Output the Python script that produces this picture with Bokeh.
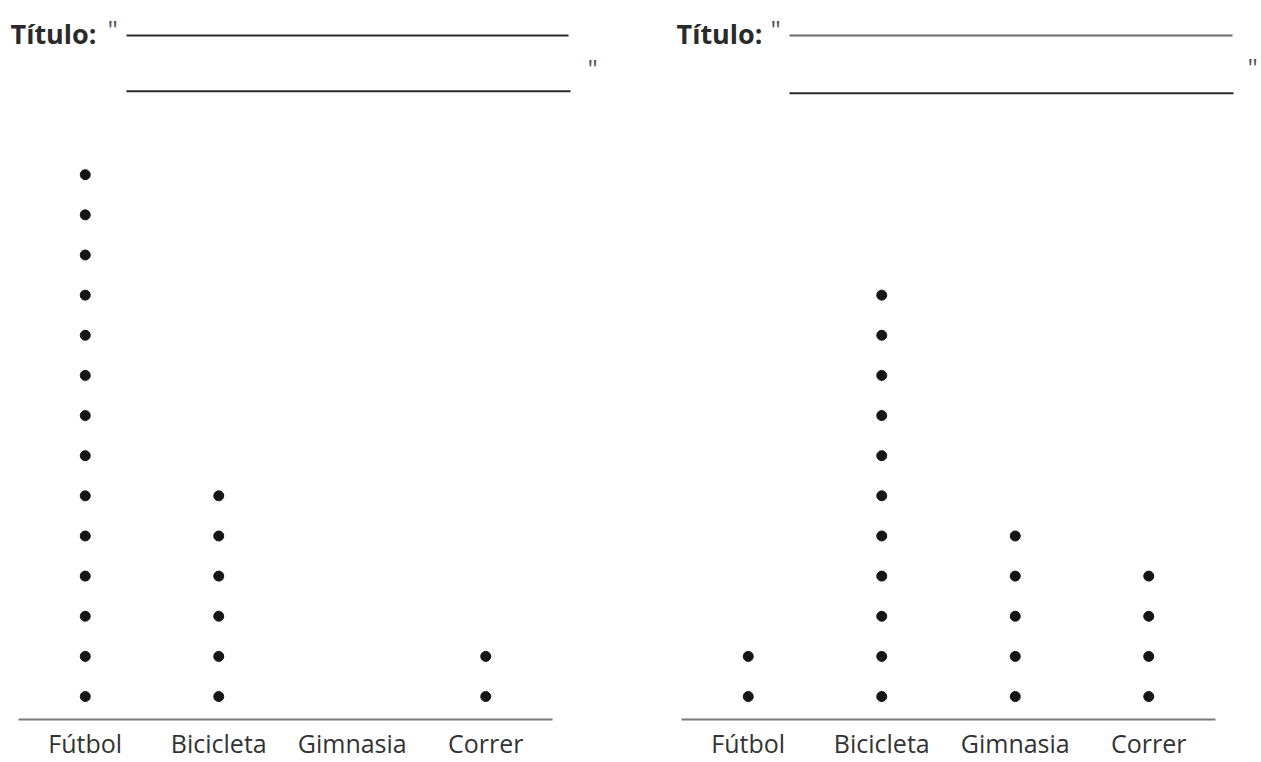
from bokeh.plotting import figure
from bokeh.layouts import row
from bokeh.models import Range1d, FixedTicker
from bokeh.core.properties import value
from bokeh.embed import file_html
from bokeh.resources import INLINE

categories = ["Fútbol", "Bicicleta", "Gimnasia", "Correr"]
counts_left = [14, 6, 0, 2]
counts_right = [2, 11, 5, 4]
title_label = "Título:"
quote_mark = '"'

FONT = "Open Sans"
DARK = "#2a2a2a"
AXIS_GRAY = "#7a7a7a"


def panel(width, counts, border_left, frame_w, title_x, quote_x, line_x0, line_x1,
          line_y, line_colors, close_x, close_y):
    xs, ys = [], []
    for i, n in enumerate(counts):
        for k in range(1, n + 1):
            xs.append(i)
            ys.append(k)
    frame_left = border_left
    p = figure(width=width, height=762, output_backend="svg", toolbar_location=None,
               x_range=Range1d(-0.5, len(categories) - 0.5),
               y_range=Range1d(0.428, 18.34),
               y_axis_location=None,
               min_border_left=border_left, min_border_right=width - border_left - frame_w,
               min_border_top=0, min_border_bottom=0,
               outline_line_color=None)
    # pixel-like helper ranges for the title decorations
    p.extra_x_ranges = {"px": Range1d(0, frame_w)}
    p.extra_y_ranges = {"px": Range1d(720, 0)}
    p.grid.visible = False

    p.scatter(x=xs, y=ys, size=10, color="#151515")

    ax = p.xaxis[0]
    ax.ticker = FixedTicker(ticks=list(range(len(categories))))
    ax.major_label_overrides = {i: c for i, c in enumerate(categories)}
    ax.axis_line_color = AXIS_GRAY
    ax.axis_line_width = 2
    ax.major_tick_line_color = None
    ax.minor_tick_line_color = None
    ax.major_tick_out = 0
    ax.major_tick_in = 0
    ax.major_label_text_font = FONT
    ax.major_label_text_font_size = "25px"
    ax.major_label_text_color = "#333333"
    ax.major_label_standoff = 6

    # title block: "Título: " ____ / ____ "
    p.text(x=[title_x - frame_left], y=[33], text=[title_label], text_font=value(FONT),
           text_font_style="bold", text_font_size="27px", text_color=DARK,
           text_baseline="alphabetic", text_align="left",
           x_range_name="px", y_range_name="px", level="overlay")
    p.text(x=[quote_x - frame_left, close_x - frame_left], y=[29, close_y],
           text=[quote_mark, quote_mark], text_font=value(FONT),
           text_font_size="26px", text_color="#555555",
           text_baseline="alphabetic", text_align="left",
           x_range_name="px", y_range_name="px", level="overlay")
    p.segment(x0=[line_x0 - frame_left] * 2, y0=line_y,
              x1=[v - frame_left for v in line_x1], y1=line_y,
              line_color=line_colors, line_width=2,
              x_range_name="px", y_range_name="px", level="overlay")
    return p


pL = panel(640, counts_left, 18, 534, 10, 107, 126, [568, 570], [35, 91],
           ["#2a2a2a", "#2a2a2a"], 587, 68)
pR = panel(621, counts_right, 41, 534, 676 - 640, 770 - 640, 789 - 640,
           [1232 - 640, 1233 - 640], [35, 93], ["#6a6a6a", "#2a2a2a"], 1247 - 640, 67)

layout = row(pL, pR, spacing=0)

open("out.html", "w").write(file_html(layout, INLINE))
